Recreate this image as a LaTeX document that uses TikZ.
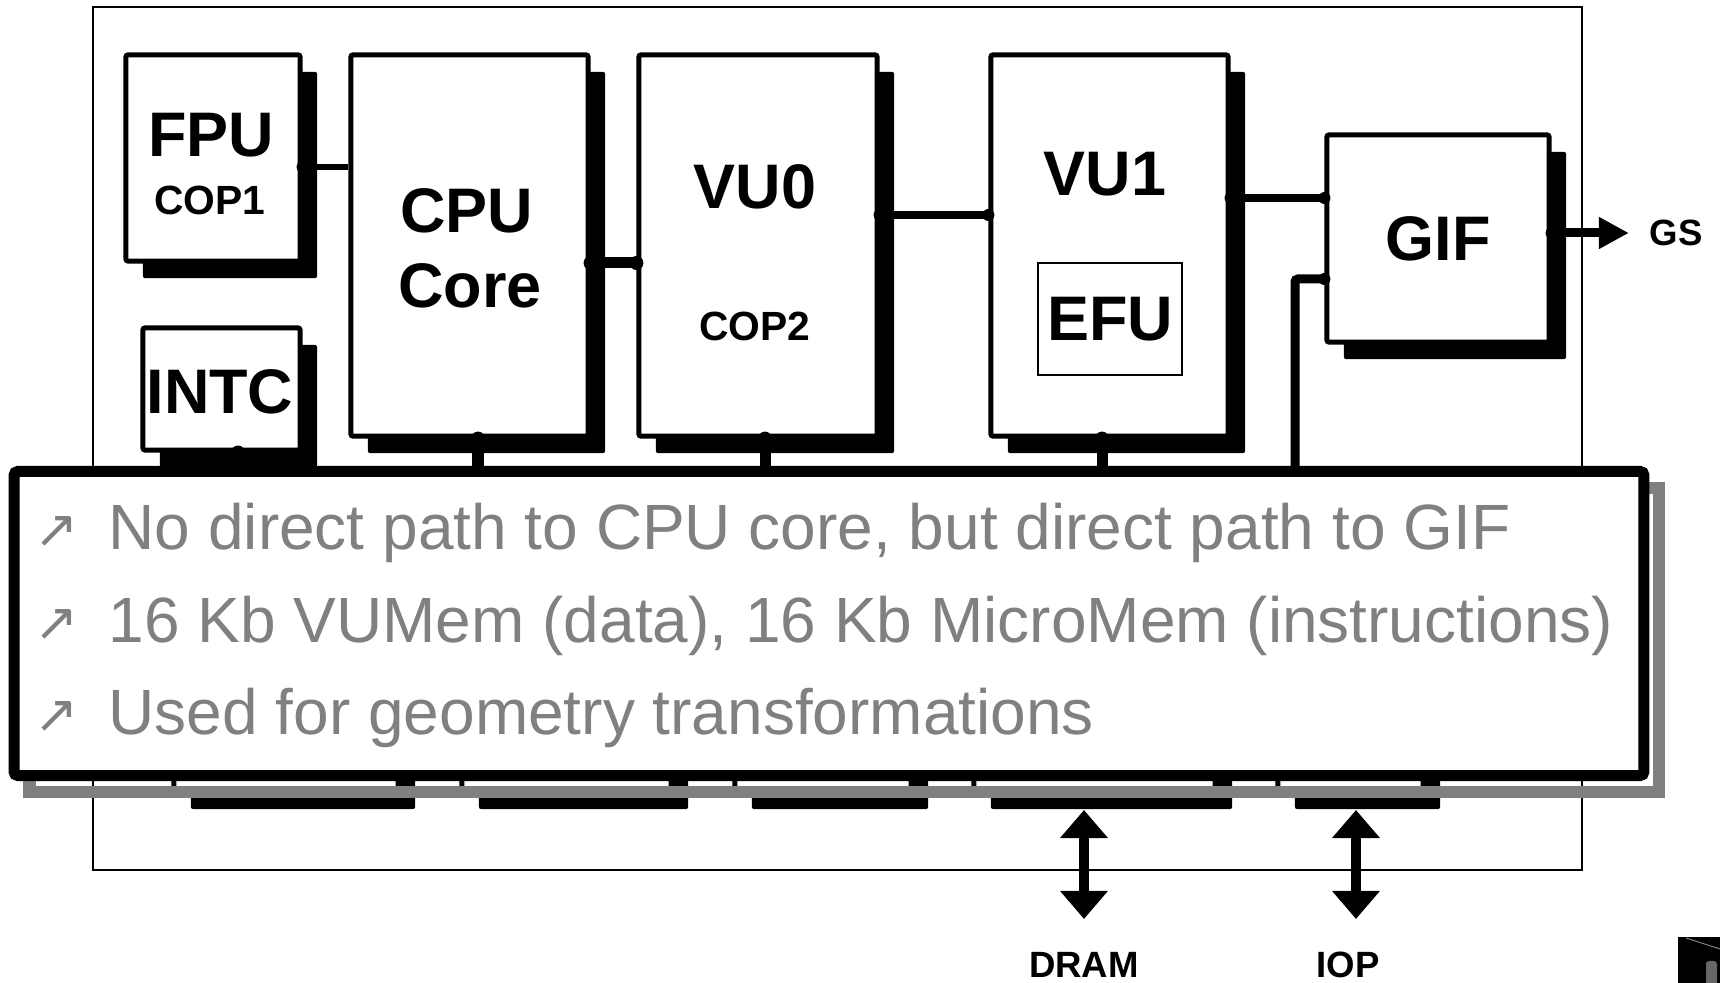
\documentclass[tikz,border=0pt]{standalone}
\usepackage{fontspec}
\setmainfont{Liberation Sans}
\newfontfamily\symfont{DejaVu Sans}
\usepackage{tikz}
\usetikzlibrary{arrows.meta,positioning,shadows}

\begin{document}
\begin{tikzpicture}[x=0.01cm, y=-0.01cm, every node/.style={align=center}]
\tikzset{
  unit/.style={draw, fill=white, line width=0.05cm, rounded corners=0.02cm, inner sep=0pt,
    drop shadow={shadow xshift=0.17cm, shadow yshift=-0.17cm, fill=black, opacity=1}},
  big/.style={font=\bfseries\fontsize{17.9}{20}\selectfont, inner sep=0pt},
  small/.style={font=\bfseries\fontsize{11.6}{13}\selectfont, inner sep=0pt},
  tiny/.style={font=\bfseries\fontsize{10.4}{12}\selectfont, inner sep=0pt},
  bullet/.style={font=\symfont\fontsize{15}{16}\selectfont, text=gray, inner sep=0pt, anchor=base},
  point/.style={font=\fontsize{18.2}{20}\selectfont, text=gray, inner sep=0pt, anchor=base west},
  dbl/.style={line width=0.1cm, <->, >={Triangle[length=0.28cm, width=0.46cm]}}
}
\useasboundingbox (0,0) rectangle (1720,983);
\draw[line width=0.015cm] (93,7) rectangle (1582,870);

\node[unit, minimum width=2.24cm, minimum height=1cm] (lo1) at (286,742) {};
\node[unit, minimum width=2.09cm, minimum height=1cm] (lo2) at (566.5,742) {};
\node[unit, minimum width=1.76cm, minimum height=1cm] (lo3) at (823,742) {};
\node[unit, minimum width=2.41cm, minimum height=1cm] (lo4) at (1094.5,742) {};
\node[unit, minimum width=1.45cm, minimum height=1cm] (lo5) at (1350.5,742) {};

\node[unit, minimum width=1.74cm, minimum height=2.06cm] (fpu) at (213,158) {};
\node[unit, minimum width=2.37cm, minimum height=3.81cm] (cpu) at (469.5,245.5) {};
\node[unit, minimum width=1.57cm, minimum height=1.22cm] (intc) at (221.5,389) {};
\node[unit, minimum width=2.38cm, minimum height=3.81cm] (vu0) at (758,245.5) {};
\node[unit, minimum width=2.37cm, minimum height=3.81cm] (vu1) at (1109.5,245.5) {};
\node[unit, minimum width=2.22cm, minimum height=2.07cm] (gif) at (1438,238.5) {};
\node[draw, line width=0.015cm, minimum width=1.44cm, minimum height=1.12cm, inner sep=0pt] (efu) at (1110,319) {};

\node[big] (fpulbl) at (211,135) {FPU};
\node[small] (cop1) at (210,200) {COP1};
\node[big] (cpulbl) at (467,211) {CPU};
\node[big] (corelbl) at (470,286) {Core};
\node[big] (intclbl) at (220,392) {INTC};
\node[big] (vu0lbl) at (755,187) {VU0};
\node[small] (cop2) at (755,326) {COP2};
\node[big] (vu1lbl) at (1105,174) {VU1};
\node[big] (efulbl) at (efu) {EFU};
\node[big] (giflbl) at (gif) {GIF};
\node[tiny] (gs) at (1676,233) {GS};

\coordinate (r1) at (0,167);
\coordinate (r2) at (0,263);
\coordinate (r3) at (0,215);
\coordinate (r4) at (0,198);
\coordinate (r5) at (0,279);
\coordinate (bus) at (1295,480);
\coordinate (c1) at (238,480);
\coordinate (c2) at (478,480);
\coordinate (c3) at (765,480);
\coordinate (c4) at (1102,480);

\draw[line width=0.065cm] (fpu.east |- r1) -- (cpu.west |- r1);
\draw[line width=0.11cm] (cpu.east |- r2) -- (vu0.west |- r2);
\draw[line width=0.075cm] (vu0.east |- r3) -- (vu1.west |- r3);
\draw[line width=0.075cm] (vu1.east |- r4) -- (gif.west |- r4);
\draw[line width=0.09cm, rounded corners=0.03cm] (gif.west |- r5) -- (bus |- r5) -- (bus);
\draw[line width=0.09cm, -{Triangle[length=0.3cm, width=0.3cm]}] (gif.east |- gs) -- ([xshift=-0.2cm]gs.west);
\draw[line width=0.11cm] (intc.south -| c1) -- (c1);
\draw[line width=0.11cm] (cpu.south -| c2) -- (c2);
\draw[line width=0.11cm] (vu0.south -| c3) -- (c3);
\draw[line width=0.11cm] (vu1.south -| c4) -- (c4);

\fill (fpu.east |- r1) circle (0.06cm);
\fill (cpu.east |- r2) circle (0.07cm);
\fill (vu0.west |- r2) circle (0.07cm);
\fill (vu0.east |- r3) circle (0.06cm);
\fill (vu1.west |- r3) circle (0.06cm);
\fill (vu1.east |- r4) circle (0.06cm);
\fill (gif.west |- r4) circle (0.06cm);
\fill (gif.west |- r5) circle (0.06cm);
\fill (gif.east |- gs) circle (0.06cm);
\fill (intc.south -| c1) circle (0.07cm);
\fill (cpu.south -| c2) circle (0.07cm);
\fill (vu0.south -| c3) circle (0.07cm);
\fill (vu1.south -| c4) circle (0.07cm);

\draw[gray, line width=0.12cm] (29.5,488.5) rectangle (1658.5,792.5);
\node[draw, fill=white, line width=0.11cm, rounded corners=0.04cm, minimum width=16.29cm, minimum height=3.04cm, inner sep=0pt] (note) at (829,623.5) {};

\node[bullet] (b1) at (57,548) {↗};
\node[bullet] (b2) at (57,641) {↗};
\node[bullet] (b3) at (57,733) {↗};
\node[point] (p1) at (108,550) {No direct path to CPU core, but direct path to GIF};
\node[point] (p2) at (108,643) {16 Kb VUMem (data), 16 Kb MicroMem (instructions)};
\node[point] (p3) at (108,735) {Used for geometry transformations};

\coordinate (dramtop) at (1084,810);
\coordinate (drambot) at (1084,919);
\coordinate (ioptop) at (1356,810);
\coordinate (iopbot) at (1356,919);
\draw[dbl] (dramtop) -- (drambot);
\draw[dbl] (ioptop) -- (iopbot);
\node[tiny, anchor=base] (dram) at (1084,978) {DRAM};
\node[tiny, anchor=base] (iop) at (1348,978) {IOP};

\fill (1678,937) rectangle (1720,983);
\draw[gray, line width=0.01cm] (1686,938) -- (1720,949);
\fill[gray!80!black, rounded corners=0.03cm] (1706,961) rectangle (1717,990);
\end{tikzpicture}
\end{document}
